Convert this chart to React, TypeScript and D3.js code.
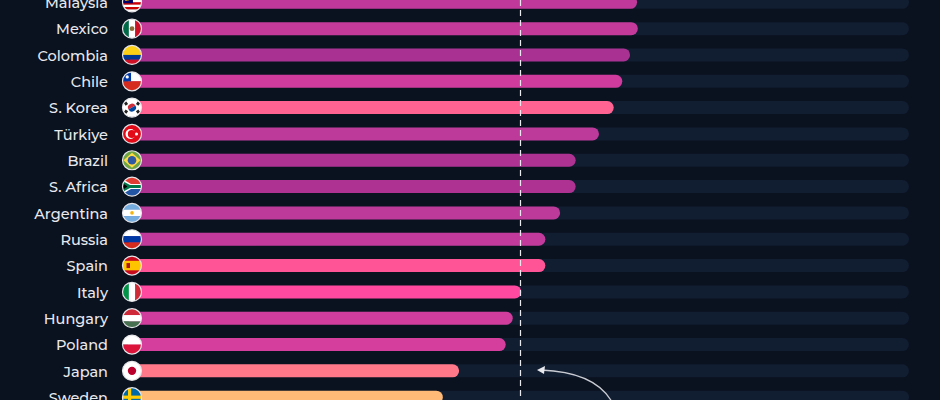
import React from "react";
import * as d3 from "d3";

const countries = ["Malaysia","Mexico","Colombia","Chile","S. Korea","Türkiye","Brazil","S. Africa","Argentina","Russia","Spain","Italy","Hungary","Poland","Japan","Sweden"];
const values = [65, 65.1, 64.1, 63.1, 62, 60.1, 57.1, 57.1, 55.1, 53.2, 53.2, 50.1, 49, 48.1, 42.1, 40];
const barColors = ["#c0399a","#c43a9b","#a93192","#cf3b9c","#ff6391","#bd399a","#ad3292","#ad3292","#bd399a","#c23a9b","#ff5596","#ff48a0","#d13d9c","#d53e9c","#ff788a","#ffba78"];
const referenceValue = 50;
const domainMax = 100;

const W = 940, H = 400;
const R = 9.5;

function Flag({ name, cx, cy, id }: { name: string; cx: number; cy: number; id: string }) {
  const x0 = cx - R, y0 = cy - R, s = 2 * R;
  const hs = (cols: string[]) => cols.map((c, i) => <rect key={i} x={x0} y={y0 + (s * i) / cols.length} width={s} height={s / cols.length + 0.2} fill={c} />);
  const vs = (cols: string[]) => cols.map((c, i) => <rect key={i} x={x0 + (s * i) / cols.length} y={y0} width={s / cols.length + 0.2} height={s} fill={c} />);
  let content: React.ReactNode = null;
  switch (name) {
    case "Malaysia":
      content = <>
        {hs(["#cc0001","#fff","#cc0001","#fff","#cc0001","#fff","#cc0001","#fff"])}
        <rect x={x0} y={y0} width={s * 0.55} height={s * 0.55} fill="#010066" />
        <circle cx={x0 + s * 0.24} cy={y0 + s * 0.27} r={3} fill="#fc0" />
        <circle cx={x0 + s * 0.29} cy={y0 + s * 0.27} r={2.6} fill="#010066" />
      </>;
      break;
    case "Mexico":
      content = <>{vs(["#006847","#fff","#ce1126"])}<circle cx={cx} cy={cy} r={2.4} fill="#8c6b3a" /></>;
      break;
    case "Colombia":
      content = <>
        <rect x={x0} y={y0} width={s} height={s / 2} fill="#fcd116" />
        <rect x={x0} y={cy} width={s} height={s / 4} fill="#003893" />
        <rect x={x0} y={cy + s / 4} width={s} height={s / 4} fill="#ce1126" />
      </>;
      break;
    case "Chile":
      content = <>
        <rect x={x0} y={y0} width={s} height={s / 2} fill="#fff" />
        <rect x={x0} y={cy} width={s} height={s / 2} fill="#d52b1e" />
        <rect x={x0} y={y0} width={s * 0.45} height={s / 2} fill="#0039a6" />
        <circle cx={x0 + s * 0.25} cy={y0 + s * 0.27} r={1.6} fill="#fff" />
      </>;
      break;
    case "S. Korea":
      content = <>
        <rect x={x0} y={y0} width={s} height={s} fill="#fff" />
        <path d={`M${cx - 4},${cy} A4,4 0 0 1 ${cx + 4},${cy} Z`} fill="#cd2e3a" transform={`rotate(-30 ${cx} ${cy})`} />
        <path d={`M${cx - 4},${cy} A4,4 0 0 0 ${cx + 4},${cy} Z`} fill="#0047a0" transform={`rotate(-30 ${cx} ${cy})`} />
        {[[-6, -4], [6, -4], [-6, 4], [6, 4]].map((p, i) => (
          <rect key={i} x={cx + p[0] - 1.5} y={cy + p[1] - 1.5} width={3} height={3} fill="#222" transform={`rotate(${p[0] * p[1] > 0 ? -35 : 35} ${cx + p[0]} ${cy + p[1]})`} />
        ))}
      </>;
      break;
    case "Türkiye":
      content = <>
        <rect x={x0} y={y0} width={s} height={s} fill="#e30a17" />
        <circle cx={cx - 1.5} cy={cy} r={5} fill="#fff" />
        <circle cx={cx - 0.2} cy={cy} r={4} fill="#e30a17" />
        <circle cx={cx + 4.5} cy={cy} r={1.5} fill="#fff" />
      </>;
      break;
    case "Brazil":
      content = <>
        <rect x={x0} y={y0} width={s} height={s} fill="#6da544" />
        <path d={`M${cx},${y0 + 2} L${x0 + s - 1},${cy} L${cx},${y0 + s - 2} L${x0 + 1},${cy} Z`} fill="#ffda44" />
        <circle cx={cx} cy={cy} r={4.3} fill="#2f5aa3" />
      </>;
      break;
    case "S. Africa":
      content = <>
        <rect x={x0} y={y0} width={s} height={s / 2} fill="#e03c31" />
        <rect x={x0} y={cy} width={s} height={s / 2} fill="#2255a4" />
        <path d={`M${x0},${y0 + 2} L${cx - 1},${cy - 2.5} L${x0 + s},${cy - 2.5} L${x0 + s},${cy + 2.5} L${cx - 1},${cy + 2.5} L${x0},${y0 + s - 2} Z`} fill="#fff" />
        <path d={`M${x0},${y0 + 4} L${cx - 2},${cy - 1.5} L${x0 + s},${cy - 1.5} L${x0 + s},${cy + 1.5} L${cx - 2},${cy + 1.5} L${x0},${y0 + s - 4} Z`} fill="#007749" />
        <path d={`M${x0},${y0 + 6} L${x0 + 5},${cy} L${x0},${y0 + s - 6} Z`} fill="#000" />
      </>;
      break;
    case "Argentina":
      content = <>{hs(["#74acdf","#fff","#74acdf"])}<circle cx={cx} cy={cy} r={1.8} fill="#f6b40e" /></>;
      break;
    case "Russia":
      content = <>{hs(["#fff","#0039a6","#d52b1e"])}</>;
      break;
    case "Spain":
      content = <>
        <rect x={x0} y={y0} width={s} height={s} fill="#c60b1e" />
        <rect x={x0} y={y0 + s / 4} width={s} height={s / 2} fill="#ffc400" />
        <rect x={x0 + 4} y={cy - 2.5} width={3.5} height={5} fill="#ad1519" />
      </>;
      break;
    case "Italy":
      content = <>{vs(["#009246","#fff","#ce2b37"])}</>;
      break;
    case "Hungary":
      content = <>{hs(["#ce2939","#fff","#477050"])}</>;
      break;
    case "Poland":
      content = <>{hs(["#fff","#dc143c"])}</>;
      break;
    case "Japan":
      content = <><rect x={x0} y={y0} width={s} height={s} fill="#fff" /><circle cx={cx} cy={cy} r={4.2} fill="#bc002d" /></>;
      break;
    case "Sweden":
      content = <>
        <rect x={x0} y={y0} width={s} height={s} fill="#006aa7" />
        <rect x={x0} y={cy - 1.6} width={s} height={3.2} fill="#fecc00" />
        <rect x={cx - 4} y={y0} width={3.2} height={s} fill="#fecc00" />
      </>;
      break;
  }
  return (
    <g>
      <clipPath id={id}><circle cx={cx} cy={cy} r={R} /></clipPath>
      <g clipPath={`url(#${id})`}>{content}</g>
      <circle cx={cx} cy={cy} r={R} fill="none" stroke="#e6e6ea" strokeWidth={1.2} />
    </g>
  );
}

export default function App() {
  const x = d3.scaleLinear().domain([0, domainMax]).range([132, 909]);
  const y = d3.scalePoint<string>().domain(countries).range([2.3, 397.2]);
  const bh = 13;
  const xStart = x(0) - 4;
  const refX = x(referenceValue);
  const arrowPath = d3.path();
  arrowPath.moveTo(612, 402);
  arrowPath.quadraticCurveTo(595, 372, 541, 370);

  return (
    <svg width={W} height={H} style={{ position: "absolute", left: 0, top: 0, background: "#0b121f" }} fontFamily="Montserrat, 'Open Sans', sans-serif">
      <rect x={0} y={0} width={W} height={H} fill="#0b121f" />
      {countries.map((c, i) => {
        const cy = y(c)!;
        return (
          <g key={c}>
            <rect x={xStart} y={cy - bh / 2} width={x(domainMax) - xStart} height={bh} rx={bh / 2} fill="#111d31" />
            <rect x={xStart} y={cy - bh / 2} width={x(values[i]) - xStart} height={bh} rx={bh / 2} fill={barColors[i]} />
            <text x={108} y={cy} dy="0.4em" textAnchor="end" fill="#e8e9ee" fontSize={14.5} fontWeight={500}>{c}</text>
            <Flag name={c} cx={x(0)} cy={cy} id={`flag-${i}`} />
          </g>
        );
      })}
      <line x1={refX} x2={refX} y1={0} y2={H} stroke="#e8e9ee" strokeWidth={1.2} strokeDasharray="6,4" />
      <path d={arrowPath.toString()} fill="none" stroke="#c9ccd3" strokeWidth={1.3} />
      <path d="M537,370 L545,366 L544,374 Z" fill="#e8e9ee" />
    </svg>
  );
}
